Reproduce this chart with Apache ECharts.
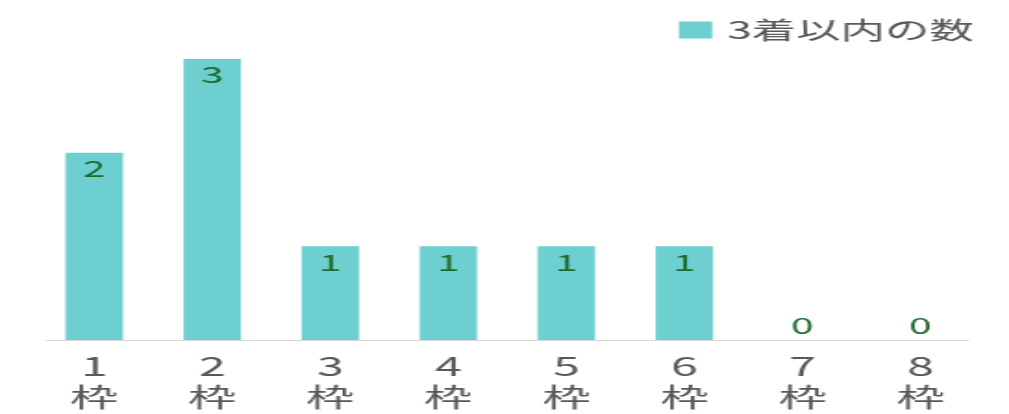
<!DOCTYPE html>
<html>
<head>
<meta charset="utf-8">
<script src="https://cdn.jsdelivr.net/npm/echarts@6/dist/echarts.min.js"></script>
<style>
html,body{margin:0;padding:0;background:#fff;overflow:hidden;}
#wrap{width:1009px;height:414px;overflow:hidden;}
#chart{width:545px;height:414px;transform:scaleX(1.8514);transform-origin:0 0;}
</style>
</head>
<body>
<div id="wrap"><div id="chart"></div></div>
<script>
const categories = ['1\n枠','2\n枠','3\n枠','4\n枠','5\n枠','6\n枠','7\n枠','8\n枠'];
const seriesName = '3着以内の数';
const values = [2, 3, 1, 1, 1, 1, 0, 0];

const FONT = '"Noto Sans CJK JP","Noto Sans",sans-serif';
const chart = echarts.init(document.getElementById('chart'), null, {renderer:'canvas'});
chart.setOption({
  animation: false,
  backgroundColor: '#fff',
  legend: {
    data: [seriesName],
    right: 14, top: 13,
    itemWidth: 18, itemHeight: 17, itemGap: 10,
    icon: 'rect',
    textStyle: {fontSize: 24, color: '#595959', fontFamily: FONT, padding: [0,0,0,3]}
  },
  grid: [
    {left: 19, right: 16, top: 59, bottom: 74},
    {left: 25, right: 22, top: 59, bottom: 74}
  ],
  xAxis: [{
    type: 'category',
    gridIndex: 0,
    data: categories,
    axisLine: {show: false},
    axisTick: {show: false},
    axisLabel: {fontSize: 26, lineHeight: 31, color: '#595959', margin: 11, fontFamily: FONT}
  }, {
    type: 'category',
    gridIndex: 1,
    data: categories,
    axisLine: {show: true, lineStyle: {color: '#d9d9d9', width: 1}},
    axisTick: {show: false},
    axisLabel: {show: false}
  }],
  yAxis: [{
    type: 'value', min: 0, max: 3, gridIndex: 0,
    show: false, splitLine: {show: false}
  }, {
    type: 'value', min: 0, max: 3, gridIndex: 1,
    show: false, splitLine: {show: false}
  }],
  series: [{
    name: seriesName,
    type: 'bar',
    xAxisIndex: 0, yAxisIndex: 0,
    barWidth: 31,
    z: 3,
    itemStyle: {color: '#6dcfcf'},
    data: values.map(v => ({
      value: v,
      label: v === 0 ? {position: 'top', distance: 3} : {}
    })),
    label: {
      show: true,
      position: 'insideTop',
      distance: 5,
      fontSize: 22,
      color: '#1e6b2e',
      fontFamily: FONT
    }
  }]
});
</script>
</body>
</html>
